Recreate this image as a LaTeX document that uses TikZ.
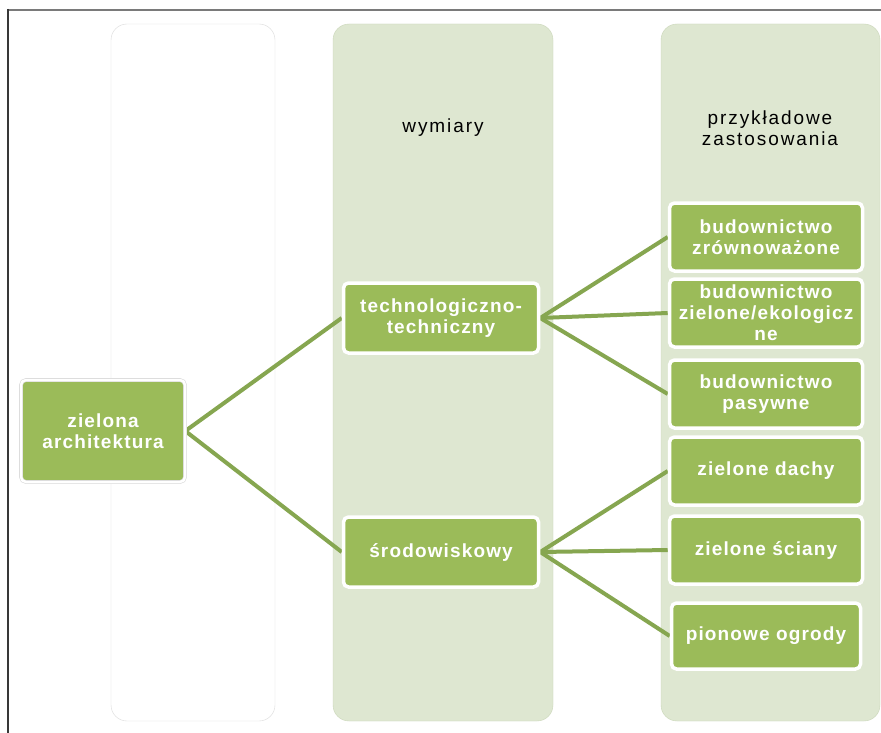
\documentclass[tikz,border=0pt]{standalone}
\usepackage{fontspec}
\setmainfont{Liberation Sans}[LetterSpace=6]
\newfontfamily\headfont{Liberation Sans}[LetterSpace=10]
\usepackage{xcolor}
\usepackage{tikz}
\usetikzlibrary{positioning,backgrounds}
\definecolor{leafgreen}{HTML}{9BBB59}
\definecolor{linkgreen}{HTML}{86A650}
\definecolor{palegreen}{HTML}{DEE7D1}
\definecolor{paleedge}{HTML}{CAD6B8}
\definecolor{coledge}{HTML}{D9D9D9}

\begin{document}
\begin{tikzpicture}[x=1pt, y=-1pt,
		box/.style={draw=white, line width=3.5pt, fill=leafgreen, rounded corners=5pt, text=white, align=center, inner sep=0pt, font=\fontsize{19}{21}\selectfont\bfseries},
		head/.style={align=center, font=\headfont\fontsize{19}{21}\selectfont},
		link/.style={draw=linkgreen, line width=4pt}]
		\useasboundingbox (0,0) rectangle (881,733);

		% columns
		\begin{scope}[on background layer]
			\fill[white] (0,0) rectangle (881,733);
			\draw[coledge, fill=white, rounded corners=16pt] (111,24) rectangle (275,721);
			\draw[paleedge, fill=palegreen, rounded corners=16pt] (333,24) rectangle (553,721);
			\draw[paleedge, fill=palegreen, rounded corners=16pt] (661,24) rectangle (880,721);
		\end{scope}
		\draw[black!52, line width=2.5pt] (8,10) -- (881,10);
		\draw[black!78, line width=2pt] (8,9) -- (8,733);

		\node[head] (dims) at (443,128) {wymiary};
		\node[head] (uses) at (770,128) {przykładowe\\zastosowania};

		\node[box, minimum width=164pt, minimum height=102pt, draw=white!85!black, double=white, double distance=2.5pt, line width=0.6pt] (arch) at (103,431) {zielona\\architektura};

		\node[box, minimum width=195pt, minimum height=70pt] (tech) at (441,318) {technologiczno-\\techniczny};
		\node[box, minimum width=195pt, minimum height=70pt] (env) at (441,552) {środowiskowy};

		\node[box, minimum width=193pt, minimum height=68pt] (sust) at (766,237) {budownictwo\\zrównoważone};
		\node[box, minimum width=193pt, minimum height=68pt] (eco) at (766,313) {budownictwo\\zielone/ekologicz\\ne};
		\node[box, minimum width=193pt, minimum height=68pt] (pass) at (766,394) {budownictwo\\pasywne};
		\node[box, minimum width=193pt, minimum height=68pt] (roofs) at (766,471) {zielone dachy};
		\node[box, minimum width=193pt, minimum height=68pt] (walls) at (766,550) {zielone ściany};
		\node[box, minimum width=189pt, minimum height=66pt] (gardens) at (766,636) {pionowe ogrody};

		\begin{scope}[on background layer]
			\draw[link] (arch.east) -- (tech.west);
			\draw[link] (arch.east) -- (env.west);

			\draw[link] (tech.east) -- (sust.west);
			\draw[link] (tech.east) -- (eco.west);
			\draw[link] (tech.east) -- (pass.west);

			\draw[link] (env.east) -- (roofs.west);
			\draw[link] (env.east) -- (walls.west);
			\draw[link] (env.east) -- (gardens.west);
		\end{scope}

	\end{tikzpicture}
\end{document}
